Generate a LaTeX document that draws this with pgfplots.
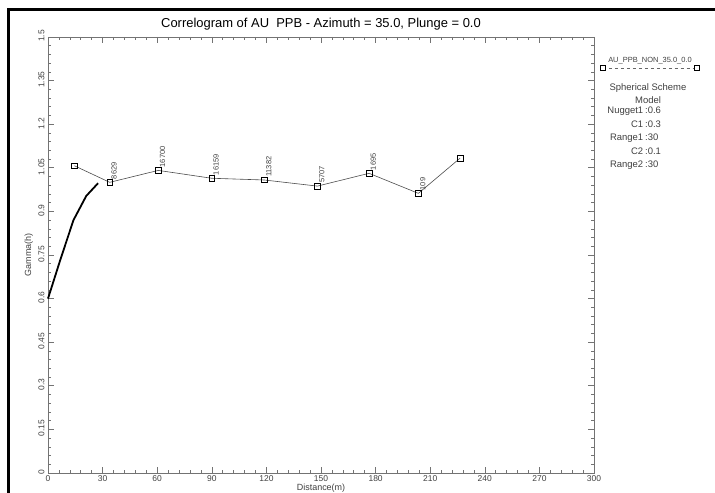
\documentclass[border=0pt]{standalone}
\usepackage{pgfplots}
\pgfplotsset{compat=1.18}
\usepackage{fontspec}
\setmainfont{Liberation Sans}
\definecolor{axgray}{gray}{0.45}
\definecolor{txtgray}{gray}{0.25}
\begin{document}
\begin{tikzpicture}[x=1bp,y=1bp]
\useasboundingbox (-48,-20) rectangle (667,473);
\begin{axis}[
  at={(0,0)}, anchor=south west,
  scale only axis, width=546bp, height=436bp,
  xmin=0, xmax=300, ymin=0, ymax=1.5,
  xtick={0,30,...,300},
  ytick={0,0.15,0.3,0.45,0.6,0.75,0.9,1.05,1.2,1.35,1.5},
  yticklabels={0,0.15,0.3,0.45,0.6,0.75,0.9,1.05,1.2,1.35,1.5},
  minor x tick num=4, minor y tick num=4,
  tick align=inside,
  major tick length=6bp, minor tick length=3bp,
  every tick/.style={axgray, line width=0.6bp},
  axis line style={axgray, line width=0.8bp},
  /pgf/number format/assume math mode=true,
  tick label style={font=\fontsize{8.5}{9}\selectfont, text=txtgray},
  xticklabel style={yshift=1bp},
  yticklabel style={rotate=90, anchor=south, xshift=1bp},
  title={Correlogram of AU\ \ PPB - Azimuth = 35.0, Plunge = 0.0},
  title style={at={(axis description cs:0.5,1)}, anchor=base, yshift=4bp, font=\fontsize{13}{14}\selectfont},
  xlabel={Distance(m)},
  xlabel style={at={(axis description cs:0.5,-0.034)}, anchor=center, font=\fontsize{9}{10}\selectfont, text=txtgray},
  ylabel={Gamma(h)},
  ylabel style={at={(axis description cs:-0.035,0.5)}, anchor=center, rotate=0, font=\fontsize{9}{10}\selectfont, text=txtgray},
  clip=false,
]
% model curve
\addplot[black, line width=1.8bp, mark=none] coordinates {
  (0,0.6) (7,0.738) (14,0.87) (21,0.953) (27.5,0.997)
};
% experimental correlogram
\addplot[black!70, line width=0.6bp, mark=square, mark size=2.8bp,
  mark options={black, line width=0.6bp, solid}] coordinates {
  (14.5,1.057) (33.9,1.000) (60.6,1.041) (89.9,1.014) (118.9,1.008)
  (148.0,0.987) (176.4,1.031) (203.5,0.962) (226.4,1.083)
};
% pair counts
\addplot[draw=none, mark=none, nodes near coords, point meta=explicit symbolic,
  every node near coord/.style={rotate=90, anchor=north west, inner sep=0.5bp,
    yshift=-1bp, xshift=2.5bp, font=\fontsize{7.5}{7.5}\selectfont, text=txtgray}]
  coordinates {
  (33.9,1.000)[8629] (60.6,1.041)[16700] (89.9,1.014)[16159] (118.9,1.008)[11382]
  (148.0,0.987)[5707] (176.4,1.031)[1695] (203.5,0.962)[109]
};
\end{axis}
% legend
\draw[black!60, dashed, line width=0.5bp] (555,405) -- (649,405);
\draw[black, line width=0.5bp, fill=white] (552.5,402.5) rectangle (557.5,407.5);
\draw[black, line width=0.5bp, fill=white] (646.5,402.5) rectangle (651.5,407.5);
\node[anchor=base, inner sep=0, font=\fontsize{7.5}{8}\selectfont, text=txtgray] at (602,410) {AU\_PPB\_NON\_35.0\_0.0};
% model description
\begin{scope}[every node/.style={inner sep=0, font=\fontsize{9.5}{10}\selectfont, text=txtgray}]
\node[anchor=center] at (600,385) {Spherical Scheme};
\node[anchor=center] at (600,373) {Model};
\node[anchor=base east] at (597,359) {Nugget1\,};
\node[anchor=base west] at (597,359) {:0.6};
\node[anchor=base east] at (597,345) {C1\,};
\node[anchor=base west] at (597,345) {:0.3};
\node[anchor=base east] at (597,332) {Range1\,};
\node[anchor=base west] at (597,332) {:30};
\node[anchor=base east] at (597,318) {C2\,};
\node[anchor=base west] at (597,318) {:0.1};
\node[anchor=base east] at (597,305) {Range2\,};
\node[anchor=base west] at (597,305) {:30};
\end{scope}
% frame
\draw[black, line width=3bp] (-39,-25) -- (-39,463) -- (672,463);
\end{tikzpicture}
\end{document}
